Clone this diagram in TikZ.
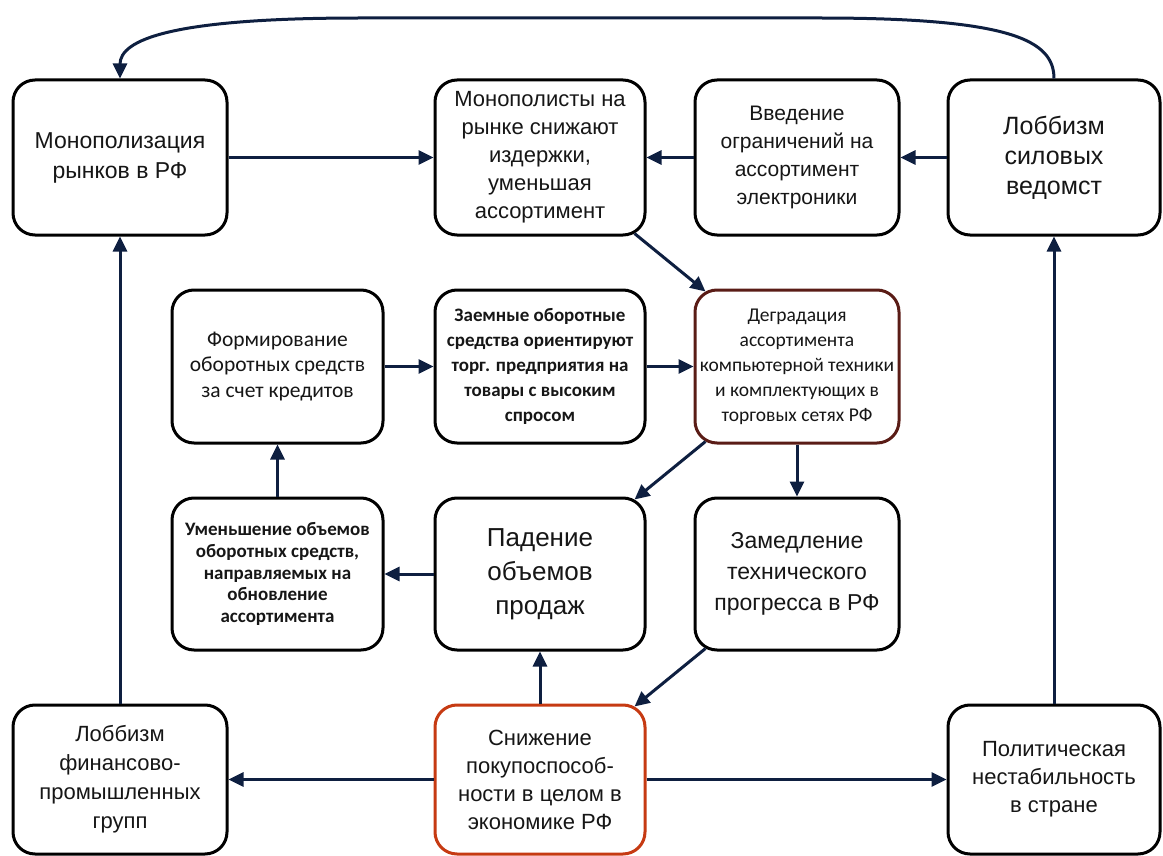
\documentclass[tikz,border=0pt]{standalone}
\usepackage{fontspec}
\setmainfont{Liberation Sans}
\newfontfamily\calib{Carlito}
\usetikzlibrary{arrows.meta,calc}
\definecolor{navy}{HTML}{0E1F40}
\definecolor{darkred}{HTML}{5A1C16}
\definecolor{orred}{HTML}{C63A12}
\definecolor{txt}{HTML}{161616}
\begin{document}
\begin{tikzpicture}[x=1pt,y=-1pt,
  box/.style={draw=black, line width=3pt, rounded corners=22pt, minimum width=210pt,
    align=center, inner sep=2pt, fill=white, text=txt},
  r1/.style={box, minimum height=155pt},
  r2/.style={box, minimum height=153pt},
  r3/.style={box, minimum height=152pt},
  r4/.style={box, minimum height=149pt},
  arr/.style={draw=navy, line width=3pt, -{Triangle[length=15pt,width=14pt]}}]
\useasboundingbox (0,0) rectangle (1163,856);

% row 1
\node[r1, minimum width=214pt, font={\fontsize{23}{30}\selectfont}] (A) at (120,157.5) {Монополизация\\рынков в РФ};
\node[r1, font={\fontsize{22}{28}\selectfont}] (B) at (540,157.5) {Монополисты на\\рынке снижают\\издержки,\\уменьшая\\ассортимент};
\node[r1, minimum width=204pt, font={\fontsize{21}{28}\selectfont}] (C) at (797,157.5) {Введение\\ограничений на\\ассортимент\\электроники};
\node[r1, minimum width=212pt, font={\fontsize{25}{30}\selectfont}] (D) at (1054,157.5) {Лоббизм\\силовых\\ведомст};

% row 2
\node[r2, minimum width=211pt, font={\calib\fontsize{21.5}{25.5}\selectfont}] (E) at (277.5,366.5) {Формирование\\оборотных средств\\за счет кредитов};
\node[r2, font={\calib\bfseries\fontsize{19}{25}\selectfont}] (F) at (540,366.5) {Заемные оборотные\\средства ориентируют\\торг. предприятия на\\товары с высоким\\спросом};
\node[r2, minimum width=204pt, draw=darkred, font={\calib\fontsize{19.5}{25}\selectfont}] (G) at (797,366.5) {Деградация\\ассортимента\\компьютерной техники\\и комплектующих в\\торговых сетях РФ};

% row 3
\node[r3, minimum width=211pt, font={\calib\bfseries\fontsize{19}{21.7}\selectfont}] (H) at (277.5,574) {Уменьшение объемов\\оборотных средств,\\направляемых на\\обновление\\ассортимента};
\node[r3, font={\fontsize{26}{34}\selectfont}] (I) at (540,574) {Падение\\объемов\\продаж};
\node[r3, minimum width=204pt, font={\fontsize{23}{31}\selectfont}] (J) at (797,574) {Замедление\\технического\\прогресса в РФ};

% row 4
\node[r4, minimum width=214pt, font={\fontsize{22}{29}\selectfont}] (K) at (120,779.5) {Лоббизм\\финансово-\\промышленных\\групп};
\node[r4, draw=orred, font={\fontsize{22}{28}\selectfont}] (L) at (540,779.5) {Снижение\\покупоспособ-\\ности в целом в\\экономике РФ};
\node[r4, minimum width=212pt, font={\fontsize{22}{28}\selectfont}] (M) at (1054,779.5) {Политическая\\нестабильность\\в стране};

% connectors
\draw[arr] (A.east) -- (B.west);
\draw[arr] (C.west) -- (B.east);
\draw[arr] (D.west) -- (C.east);
\draw[arr] (D.north) .. controls (1054,40) and (1010,18) .. (820,18) -- (360,18) .. controls (170,18) and (120,40) .. (A.north);
\draw[arr] ($(B.south east)+(-12,-3)$) -- ($(G.north west)+(12,3)$);
\draw[arr] (E.east) -- (F.west);
\draw[arr] (F.east) -- (G.west);
\draw[arr] (H.north) -- (E.south);
\draw[arr] (I.west) -- (H.east);
\draw[arr] ($(G.south west)+(12,-3)$) -- ($(I.north east)+(-12,3)$);
\draw[arr] (G.south) -- (J.north);
\draw[arr] ($(J.south west)+(12,-3)$) -- ($(L.north east)+(-12,3)$);
\draw[arr] (L.north) -- (I.south);
\draw[arr] (L.west) -- (K.east);
\draw[arr] (L.east) -- (M.west);
\draw[arr] (K.north) -- (A.south);
\draw[arr] (M.north) -- (D.south);
\end{tikzpicture}
\end{document}
